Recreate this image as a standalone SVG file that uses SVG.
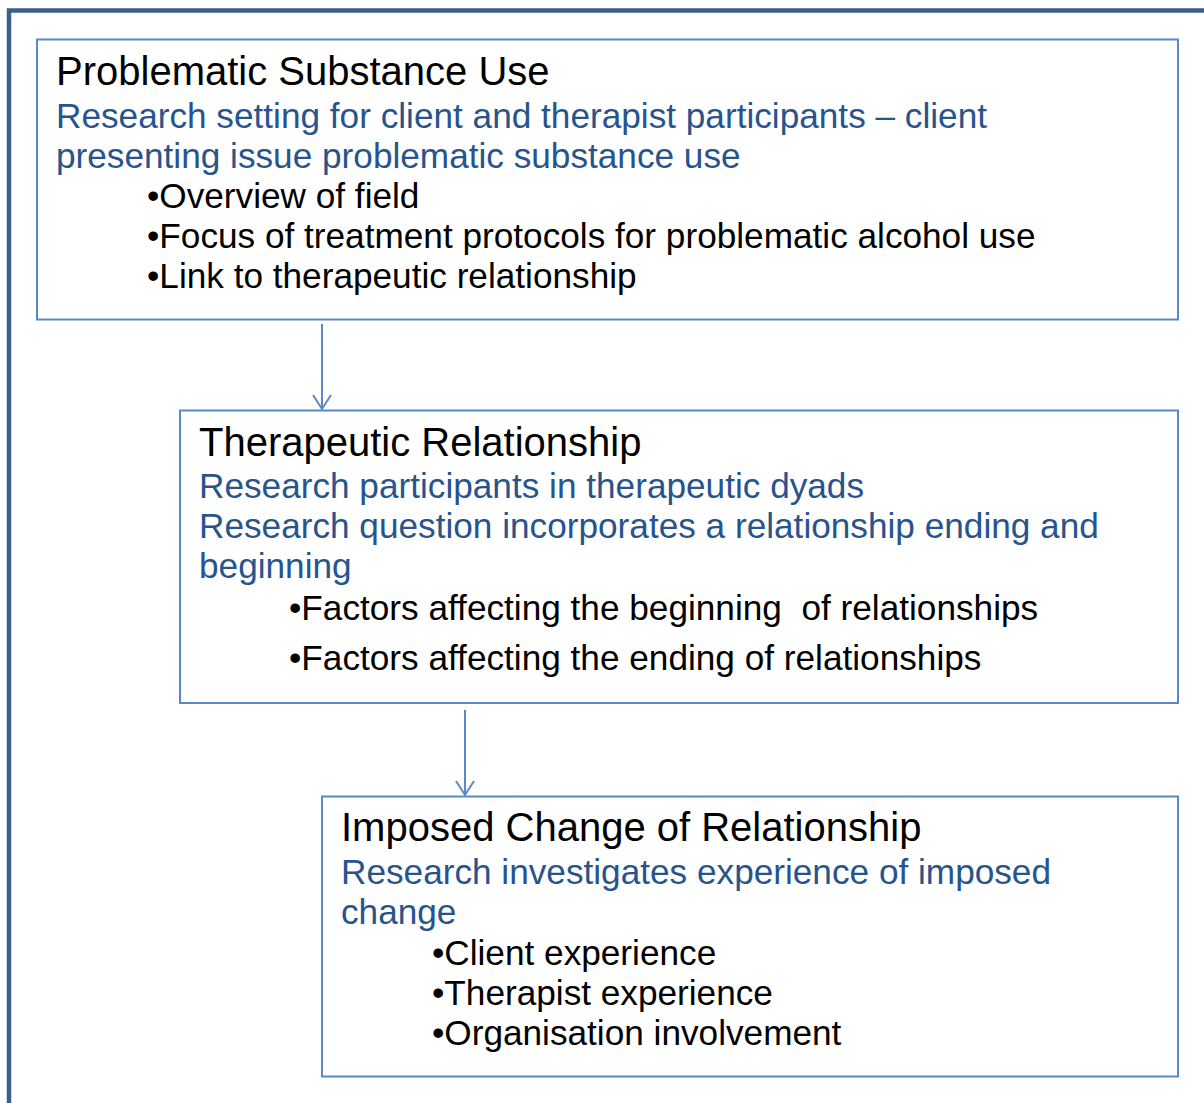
<svg xmlns="http://www.w3.org/2000/svg" width="1204" height="1103" viewBox="0 0 1204 1103">
<style>
.frame{fill:none;stroke:#3a5f8e;stroke-width:4.5}
.box{fill:#ffffff;stroke:#5b88c8;stroke-width:2}
text{font-family:"Liberation Sans",Arial,sans-serif;white-space:pre}
.t{font-size:40px;fill:#000000}
.s{font-size:35.2px;fill:#28548e}
.b{font-size:35.2px;fill:#000000}
.conn{stroke:#5b88c8;stroke-width:2;fill:none}
</style>
<rect class="frame" x="9" y="10.5" width="1300" height="1200"/>
<g id="connectors">
<line class="conn" x1="322" y1="324" x2="322" y2="409"/>
<polyline class="conn" points="313,395 322,409 331,395"/>
<line class="conn" x1="465" y1="710" x2="465" y2="795"/>
<polyline class="conn" points="456,781 465,795 474,781"/>
</g>
<g id="node-substance">
<rect class="box" x="37" y="39.5" width="1141" height="280"/>
<text class="t" x="56" y="85">Problematic Substance Use</text>
<text class="s" x="56" y="128">Research setting for client and therapist participants – client</text>
<text class="s" x="56" y="168">presenting issue problematic substance use</text>
<text class="b" x="147" y="208">•Overview of field</text>
<text class="b" x="147" y="248">•Focus of treatment protocols for problematic alcohol use</text>
<text class="b" x="147" y="288">•Link to therapeutic relationship</text>
</g>
<g id="node-therapeutic">
<rect class="box" x="180" y="410.5" width="998" height="292.5"/>
<text class="t" x="199" y="456">Therapeutic Relationship</text>
<text class="s" x="199" y="498">Research participants in therapeutic dyads</text>
<text class="s" x="199" y="538">Research question incorporates a relationship ending and</text>
<text class="s" x="199" y="578">beginning</text>
<text class="b" x="289" y="620" xml:space="preserve">•Factors affecting the beginning  of relationships</text>
<text class="b" x="289" y="670">•Factors affecting the ending of relationships</text>
</g>
<g id="node-imposed">
<rect class="box" x="322" y="796.5" width="856" height="280"/>
<text class="t" x="341" y="841">Imposed Change of Relationship</text>
<text class="s" x="341" y="884">Research investigates experience of imposed</text>
<text class="s" x="341" y="924">change</text>
<text class="b" x="432" y="965">•Client experience</text>
<text class="b" x="432" y="1005">•Therapist experience</text>
<text class="b" x="432" y="1045">•Organisation involvement</text>
</g>
</svg>
